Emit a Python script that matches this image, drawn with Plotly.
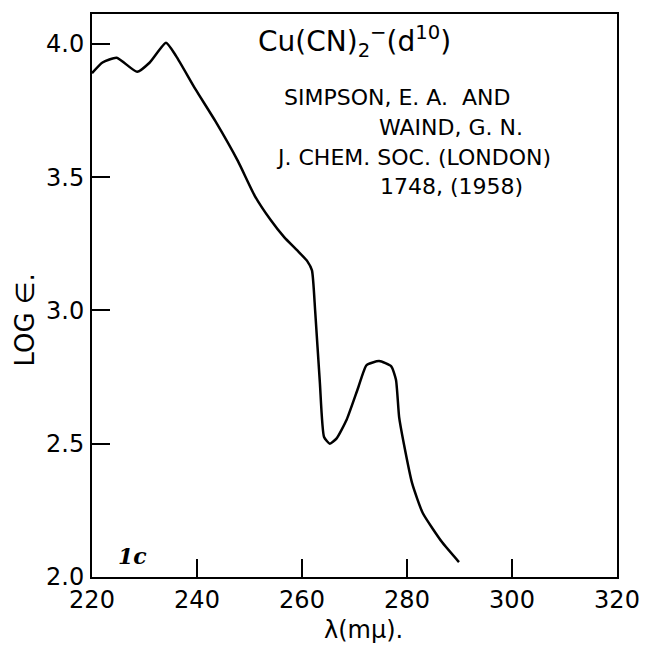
import plotly.graph_objects as go

# Absorption spectrum of Cu(CN)2^- : wavelength (m\u03bc) vs log epsilon
wavelength = [220, 222, 224.7, 228.6, 231, 234.1, 236, 239.7, 243.5,
              247.8, 251, 254, 256.6, 259.1, 261, 261.9, 262.5, 263.4, 264.2,
              265.3, 266.6, 268.5, 270.7, 272.3, 274.7, 277, 277.9, 278.5,
              279.4, 281, 283, 286.7, 289.9]
log_eps = [3.89, 3.93, 3.948, 3.895, 3.93, 4.004, 3.955, 3.83, 3.71,
           3.56, 3.43, 3.34, 3.275, 3.225, 3.185, 3.15, 3.0, 2.73, 2.525,
           2.50, 2.52, 2.59, 2.71, 2.795, 2.81, 2.79, 2.74, 2.60,
           2.50, 2.35, 2.24, 2.13, 2.056]

x_ticks = [220, 240, 260, 280, 300, 320]
y_ticks = [2.0, 2.5, 3.0, 3.5, 4.0]
y_tick_text = ["2.0", "2.5", "3.0", "3.5", "4.0"]

FONT = "DejaVu Sans"

fig = go.Figure()
fig.add_trace(go.Scatter(
    x=wavelength, y=log_eps, mode="lines",
    line=dict(color="black", width=2.5, shape="spline", smoothing=0.5),
    hoverinfo="skip", showlegend=False,
))

axis_common = dict(
    showline=True, linecolor="black", linewidth=2, mirror=True,
    ticks="inside", ticklen=18, tickwidth=2, tickcolor="black",
    showgrid=False, zeroline=False,
    tickfont=dict(family=FONT, size=24, color="black"),
)

fig.update_layout(
    width=652, height=648,
    margin=dict(l=92, r=27, t=13, b=71),
    paper_bgcolor="white", plot_bgcolor="white",
    xaxis=dict(range=[220, 320], tickvals=x_ticks, **axis_common),
    yaxis=dict(range=[2.0, 4.112], tickvals=y_ticks, ticktext=y_tick_text,
               ticklabelstandoff=1, **axis_common),
    font=dict(family=FONT, color="black"),
)

PW, PH = 652 - 92 - 27, 648 - 13 - 71

notes = [
    dict(y=41, text="Cu(CN)<sub>2</sub><sup>\u2212</sup>(d<sup>10</sup>)", size=28, cx=258, anchor="left"),
    dict(y=97, text="SIMPSON, E. A.  AND", size=22, cx=285, anchor="left"),
    dict(y=127, text="WAIND, G. N.", size=22, cx=532, anchor="right"),
    dict(y=157, text="J. CHEM. SOC. (LONDON)", size=22, cx=277, anchor="left"),
    dict(y=186, text="1748, (1958)", size=22, cx=532, anchor="right"),
]
for n in notes:
    fig.add_annotation(
        xref="paper", yref="paper",
        x=(n["cx"] - 92) / PW, y=1 - (n["y"] - 13) / PH,
        text=n["text"], showarrow=False, xanchor=n["anchor"], yanchor="middle",
        font=dict(family=FONT, size=n["size"], color="black"),
    )

# panel label
fig.add_annotation(
    xref="paper", yref="paper", x=(116 - 92) / PW, y=1 - (556 - 13) / PH,
    text="<b><i>1c</i></b>", showarrow=False, xanchor="left", yanchor="middle",
    font=dict(family="DejaVu Serif", size=22, color="black"),
)

# axis titles
fig.add_annotation(
    xref="paper", yref="paper", x=(368 - 92) / PW, y=1 - (630 - 13) / PH,
    text="\u03bb(m\u03bc).", showarrow=False, xanchor="center", yanchor="middle",
    font=dict(family=FONT, size=24, color="black"),
)
fig.add_annotation(
    xref="paper", yref="paper", x=(24 - 92) / PW, y=1 - (320 - 13) / PH,
    text="LOG \u2208.", textangle=-90, showarrow=False,
    xanchor="center", yanchor="middle",
    font=dict(family=FONT, size=26, color="black"),
)

fig.write_html("out.html")
